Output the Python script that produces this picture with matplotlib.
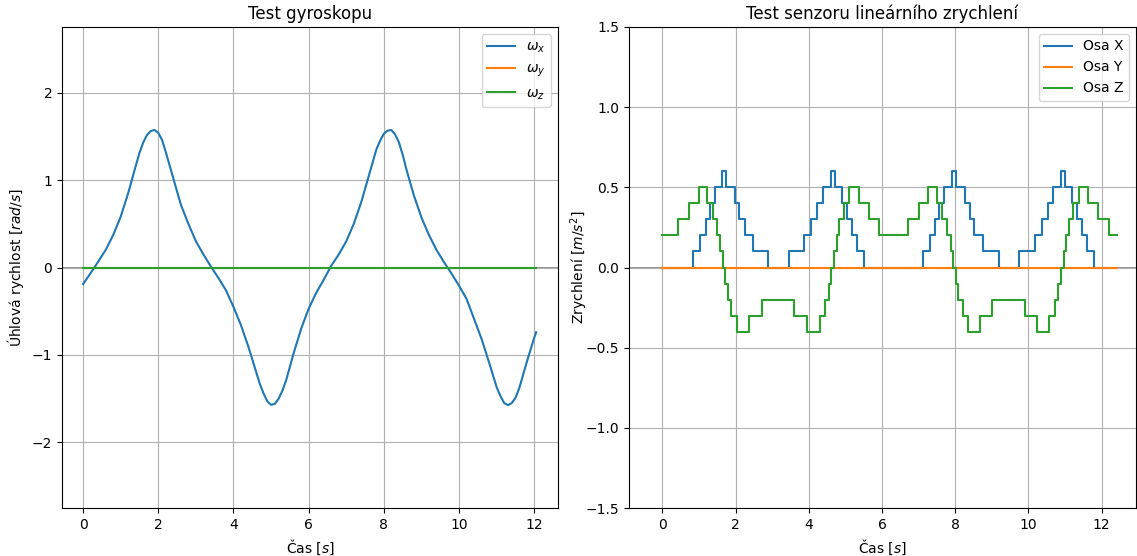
import matplotlib
matplotlib.use("Agg")
import matplotlib.pyplot as plt
import numpy as np

# ---- Gyroscope data ----
gyro_t = [0.0, 0.2, 0.4, 0.6, 0.8, 1.0, 1.2, 1.4, 1.5, 1.6, 1.7, 1.8, 1.9, 2.0, 2.1, 2.2,
          2.4, 2.6, 2.8, 3.0, 3.2, 3.4, 3.6, 3.8, 4.0, 4.2, 4.4, 4.6, 4.7, 4.8, 4.9, 5.0,
          5.1, 5.2, 5.3, 5.4, 5.6, 5.8, 6.0, 6.2, 6.4, 6.6, 6.8, 7.0, 7.2, 7.4, 7.6, 7.8,
          7.9, 8.0, 8.1, 8.2, 8.3, 8.4, 8.5, 8.6, 8.8, 9.0, 9.2, 9.4, 9.6, 9.8, 10.0,
          10.2, 10.4, 10.6, 10.8, 11.0, 11.1, 11.2, 11.3, 11.4, 11.5, 11.6, 11.8, 12.0,
          12.05]
gyro_x = [-0.19, -0.065, 0.065, 0.20, 0.37, 0.58, 0.85, 1.16, 1.31, 1.43, 1.515, 1.56,
          1.573, 1.54, 1.46, 1.32, 1.02, 0.72, 0.50, 0.30, 0.15, 0.01, -0.12, -0.26,
          -0.45, -0.66, -0.91, -1.19, -1.33, -1.44, -1.53, -1.57, -1.56, -1.50, -1.41,
          -1.29, -0.98, -0.70, -0.47, -0.29, -0.14, 0.02, 0.15, 0.30, 0.50, 0.75, 1.05,
          1.35, 1.45, 1.53, 1.565, 1.572, 1.52, 1.43, 1.29, 1.12, 0.82, 0.57, 0.37, 0.20,
          0.06, -0.07, -0.21, -0.36, -0.59, -0.82, -1.09, -1.37, -1.47, -1.55, -1.574,
          -1.55, -1.49, -1.38, -1.08, -0.80, -0.74]
gyro_y = [0.0] * len(gyro_t)
gyro_z = [0.0] * len(gyro_t)

# ---- Accelerometer data: change times and step values ----
acc_end = 12.43
accx_t = [0.0, 0.85, 1.03, 1.18, 1.29, 1.43, 1.63, 1.73, 1.98, 2.10, 2.25, 2.47, 2.89,
          3.46, 3.87, 4.07, 4.22, 4.40, 4.61, 4.72, 4.92, 5.05, 5.17, 5.33, 5.51,
          7.11, 7.30, 7.45, 7.57, 7.70, 7.91, 8.02, 8.27, 8.41, 8.52, 8.75, 9.21,
          9.75, 10.17, 10.38, 10.53, 10.68, 10.89, 11.00, 11.20, 11.34, 11.46, 11.61, 11.80,
          acc_end]
accx_v = [0.0, 0.1, 0.2, 0.3, 0.4, 0.5, 0.6, 0.5, 0.4, 0.3, 0.2, 0.1, 0.0,
          0.1, 0.2, 0.3, 0.4, 0.5, 0.6, 0.5, 0.4, 0.3, 0.2, 0.1, 0.0,
          0.1, 0.2, 0.3, 0.4, 0.5, 0.6, 0.5, 0.4, 0.3, 0.2, 0.1, 0.0,
          0.1, 0.2, 0.3, 0.4, 0.5, 0.6, 0.5, 0.4, 0.3, 0.2, 0.1, 0.0,
          0.0]
accy_t = [0.0, acc_end]
accy_v = [0.0, 0.0]
accz_t = [0.0, 0.44, 0.73, 1.01, 1.23, 1.38, 1.49, 1.58, 1.65, 1.71, 1.80, 1.87, 2.03, 2.37,
          2.73, 3.61, 3.96, 4.31, 4.45, 4.54, 4.61, 4.70, 4.77, 4.84, 4.95, 5.11, 5.36,
          5.65, 5.93, 6.70, 7.00, 7.27, 7.51, 7.65, 7.77, 7.88, 7.95, 8.02, 8.09, 8.21,
          8.36, 8.68, 9.00, 9.91, 10.23, 10.57, 10.73, 10.82, 10.89, 10.96, 11.02, 11.11,
          11.23, 11.39, 11.64, 11.91, 12.21, acc_end]
accz_v = [0.2, 0.3, 0.4, 0.5, 0.4, 0.3, 0.2, 0.1, 0.0, -0.1, -0.2, -0.3, -0.4, -0.3,
          -0.2, -0.3, -0.4, -0.3, -0.2, -0.1, 0.0, 0.1, 0.2, 0.3, 0.4, 0.5, 0.4,
          0.3, 0.2, 0.3, 0.4, 0.5, 0.4, 0.3, 0.2, 0.1, 0.0, -0.1, -0.2, -0.3,
          -0.4, -0.3, -0.2, -0.3, -0.4, -0.3, -0.2, -0.1, 0.0, 0.1, 0.2, 0.3,
          0.4, 0.5, 0.4, 0.3, 0.2, 0.2]

W, H = 1137, 556
fig = plt.figure(figsize=(W / 100, H / 100), dpi=100)

def box(l, r, t, b):
    return [l / W, (H - b) / H, (r - l) / W, (b - t) / H]

ax1 = fig.add_axes(box(62, 558, 27, 508))
ax2 = fig.add_axes(box(629, 1136, 27, 508))

ax1.axhline(0, color='gray', lw=1.2, zorder=1)
ax1.plot(gyro_t, gyro_x, label=r'$\omega_x$', color='C0', lw=1.5)
ax1.plot(gyro_t, gyro_y, label=r'$\omega_y$', color='C1', lw=1.5)
ax1.plot(gyro_t, gyro_z, label=r'$\omega_z$', color='C2', lw=1.5)
ax1.set_ylim(-2.75, 2.75)
ax1.set_xlim(-0.56, 12.63)
ax1.set_yticks([-2, -1, 0, 1, 2])
ax1.set_xticks([0, 2, 4, 6, 8, 10, 12])
ax1.grid(True)
ax1.set_title('Test gyroskopu', fontsize=12)
ax1.set_xlabel('Čas [$s$]')
ax1.set_ylabel('Úhlová rychlost [$rad/s$]')
ax1.legend(loc='upper right')

ax2.axhline(0, color='gray', lw=1.2, zorder=1)
ax2.plot(accx_t, accx_v, drawstyle='steps-post', label='Osa X', color='C0', lw=1.5)
ax2.plot(accy_t, accy_v, drawstyle='steps-post', label='Osa Y', color='C1', lw=1.5)
ax2.plot(accz_t, accz_v, drawstyle='steps-post', label='Osa Z', color='C2', lw=1.5)
ax2.set_ylim(-1.5, 1.5)
ax2.set_xlim(-0.91, 12.94)
ax2.set_yticks([-1.5, -1.0, -0.5, 0.0, 0.5, 1.0, 1.5])
ax2.set_xticks([0, 2, 4, 6, 8, 10, 12])
ax2.grid(True)
ax2.set_title('Test senzoru lineárního zrychlení', fontsize=12)
ax2.set_xlabel('Čas [$s$]')
ax2.set_ylabel('Zrychlení [$m/s^2$]')
ax2.yaxis.set_label_coords(-0.077, 0.5)
ax2.legend(loc='upper right')

fig.savefig('out.png', dpi=100)
